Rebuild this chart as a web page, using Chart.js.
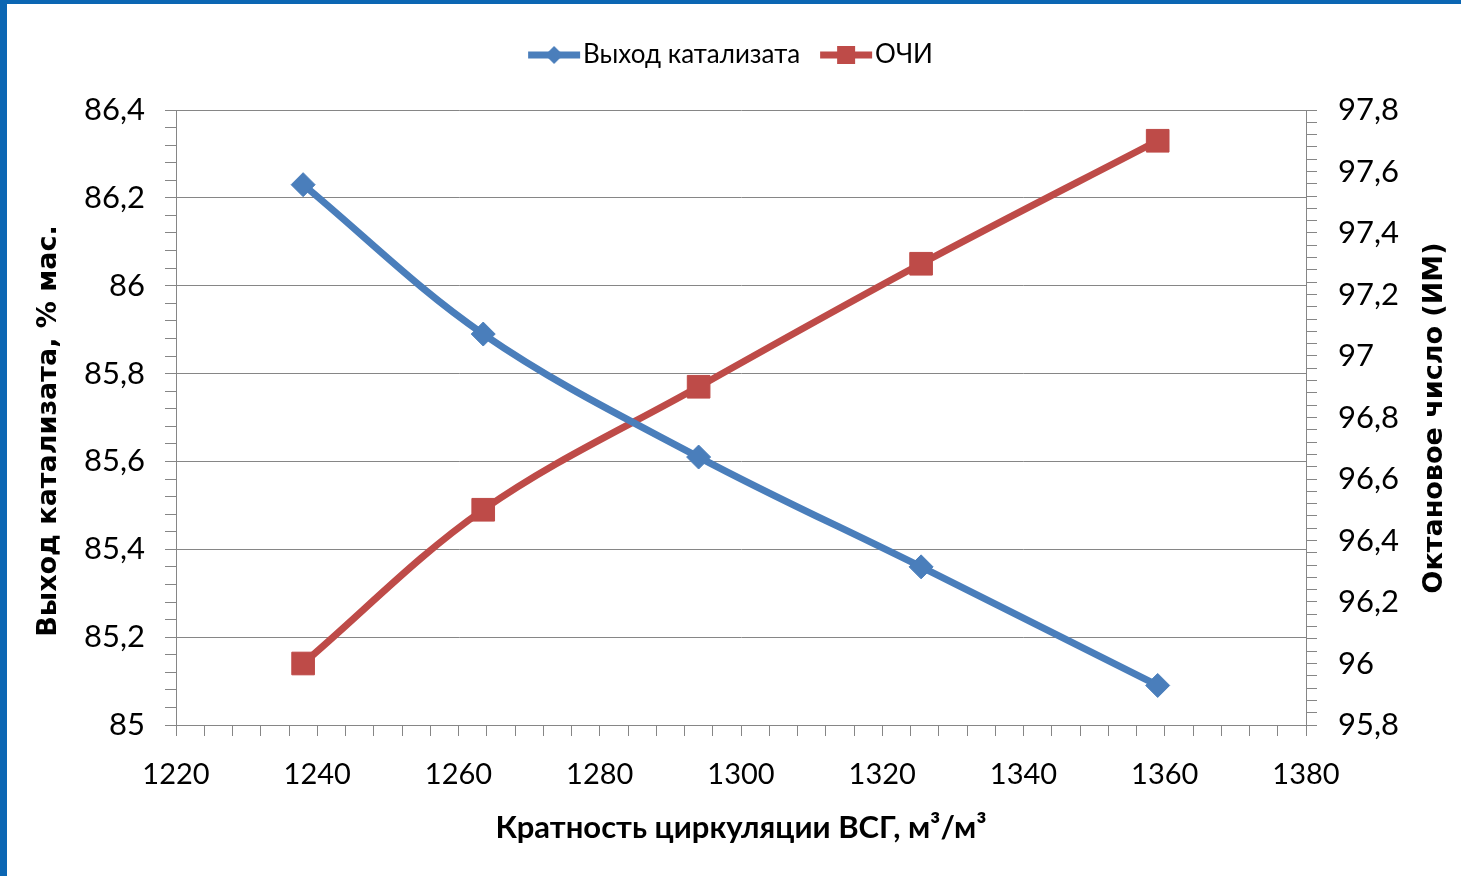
<!DOCTYPE html>
<html lang="ru">
<head>
<meta charset="utf-8">
<title>Выход катализата и ОЧИ</title>
<script src="https://cdn.jsdelivr.net/npm/chart.js@4.4.1/dist/chart.umd.min.js"></script>
<style>
    html, body { margin: 0; padding: 0; background: #fff; }
    #wrap { position: relative; width: 1461px; height: 876px; overflow: hidden; }
    #wrap canvas { position: absolute; left: 0; top: 0; }
    .frame { position: absolute; background: #0b66b3; }
    #frameLeft { left: 0; top: 0; width: 7px; height: 876px; }
    #frameTop { left: 0; top: 0; width: 1461px; height: 4px; }
</style>
</head>
<body>
<div id="wrap">
    <canvas id="chart" width="1461" height="876"></canvas>
    <div class="frame" id="frameLeft"></div>
    <div class="frame" id="frameTop"></div>
</div>
<script>
// values
const circulation = [1238, 1263.5, 1294, 1325.5, 1359];
const catalystYield = [86.23, 85.89, 85.61, 85.36, 85.09];
const octaneNumber = [96.0, 96.5, 96.9, 97.3, 97.7];

const seriesNames = ['Выход катализата', 'ОЧИ'];
const xTitle = 'Кратность циркуляции ВСГ, м³/м³';
const yLeftTitle = 'Выход катализата, % мас.';
const yRightTitle = 'Октановое число (ИМ)';

const xRange = [1220, 1380];
const yLeftRange = [85, 86.4];
const yRightRange = [95.8, 97.8];

const BLUE = '#4a7ebb';
const RED = '#be4b48';
const AXIS = '#868686';

const isMajor = (v, step) => Math.abs(v / step - Math.round(v / step)) < 1e-6;
const fmt = (v) => (Math.round(v * 10) / 10).toString().replace('.', ',');

// legend icon: line with marker, like the Excel legend
function legendIcon(color, shape) {
    const c = document.createElement('canvas');
    c.width = 64; c.height = 22;
    const g = c.getContext('2d');
    g.strokeStyle = color;
    g.lineWidth = 7;
    g.beginPath(); g.moveTo(11, 11); g.lineTo(63, 11); g.stroke();
    g.fillStyle = color;
    const cx = 37, cy = 11;
    if (shape === 'diamond') {
        g.beginPath();
        g.moveTo(cx, cy - 9); g.lineTo(cx + 9, cy); g.lineTo(cx, cy + 9); g.lineTo(cx - 9, cy);
        g.closePath(); g.fill();
    } else {
        g.fillRect(cx - 9, cy - 9, 18, 18);
    }
    return c;
}
const legendIcons = [legendIcon(BLUE, 'diamond'), legendIcon(RED, 'square')];

// y-axis titles, both read bottom to top
const axisTitles = {
    id: 'axisTitles',
    afterDraw(chart) {
        const ctx = chart.ctx;
        ctx.save();
        ctx.fillStyle = '#000';
        ctx.font = "bold 27px 'DejaVu Sans'";
        ctx.textAlign = 'center';
        ctx.textBaseline = 'middle';
        [[49, 431, yLeftTitle], [1435, 418, yRightTitle]].forEach(([x, y, t]) => {
            ctx.save();
            ctx.translate(x, y);
            ctx.rotate(-Math.PI / 2);
            ctx.fillText(t, 0, 0);
            ctx.restore();
        });
        ctx.restore();
    }
};

Chart.defaults.font.family = "Lato, 'Open Sans', sans-serif";
Chart.defaults.color = '#000';

const tickGrid = (step, onArea) => ({
    drawOnChartArea: onArea,
    color: (c) => (c.tick && isMajor(c.tick.value, step)) ? AXIS : 'rgba(0,0,0,0)',
    tickColor: AXIS,
    tickLength: 11,
    lineWidth: 1
});

new Chart(document.getElementById('chart'), {
    type: 'line',
    data: {
        datasets: [{
            label: seriesNames[0],
            data: circulation.map((x, i) => ({ x, y: catalystYield[i] })),
            yAxisID: 'y',
            borderColor: BLUE,
            backgroundColor: BLUE,
            borderWidth: 7,
            tension: 0.35,
            pointStyle: 'rectRot',
            pointRadius: 12,
            pointBorderWidth: 1,
            pointBorderColor: BLUE,
            pointBackgroundColor: BLUE
        }, {
            label: seriesNames[1],
            data: circulation.map((x, i) => ({ x, y: octaneNumber[i] })),
            yAxisID: 'y1',
            borderColor: RED,
            backgroundColor: RED,
            borderWidth: 7,
            tension: 0.35,
            pointStyle: 'rect',
            pointRadius: 16,
            pointBorderWidth: 1,
            pointBorderColor: RED,
            pointBackgroundColor: RED
        }]
    },
    options: {
        responsive: false,
        animation: false,
        layout: { padding: { top: 22, left: 0, right: 0, bottom: 0 } },
        plugins: {
            tooltip: { enabled: false },
            legend: {
                position: 'top',
                labels: {
                    usePointStyle: true,
                    pointStyleWidth: 42,
                    padding: 20,
                    font: { size: 26 },
                    color: '#000',
                    generateLabels: (chart) => chart.data.datasets.map((ds, i) => ({
                        text: ds.label,
                        pointStyle: legendIcons[i],
                        fillStyle: ds.borderColor,
                        strokeStyle: ds.borderColor,
                        lineWidth: 0,
                        datasetIndex: i
                    }))
                }
            },
            // empty spacer between legend and plot
            subtitle: {
                display: true,
                text: ' ',
                weight: 500,
                font: { size: 10, lineHeight: 1 },
                padding: { top: 0, bottom: 22 }
            }
        },
        scales: {
            x: {
                type: 'linear',
                position: 'bottom',
                min: xRange[0],
                max: xRange[1],
                afterFit: (s) => { s.height = 151; },
                border: { color: AXIS, width: 1 },
                grid: tickGrid(20, false),
                ticks: {
                    stepSize: 4,
                    maxTicksLimit: 1000,
                    autoSkip: false,
                    maxRotation: 0,
                    padding: 21,
                    font: { size: 29 },
                    callback: (v) => isMajor(v, 20) ? String(v) : ''
                },
                title: {
                    display: true,
                    text: xTitle,
                    font: { size: 31, weight: 'bold' },
                    padding: { top: 0, bottom: 29 }
                }
            },
            y: {
                type: 'linear',
                position: 'left',
                min: yLeftRange[0],
                max: yLeftRange[1],
                afterFit: (s) => { s.width = 176; },
                border: { color: AXIS, width: 1 },
                grid: tickGrid(0.2, true),
                ticks: {
                    stepSize: 0.04,
                    maxTicksLimit: 1000,
                    autoSkip: false,
                    padding: 20,
                    font: { size: 31 },
                    callback: (v) => isMajor(v, 0.2) ? fmt(v) : ''
                }
            },
            y1: {
                type: 'linear',
                position: 'right',
                min: yRightRange[0],
                max: yRightRange[1],
                afterFit: (s) => { s.width = 155; },
                border: { color: AXIS, width: 1 },
                grid: tickGrid(0.2, false),
                ticks: {
                    stepSize: 0.04,
                    maxTicksLimit: 1000,
                    autoSkip: false,
                    padding: 21,
                    font: { size: 31 },
                    callback: (v) => isMajor(v, 0.2) ? fmt(v) : ''
                }
            }
        }
    },
    plugins: [axisTitles]
});
</script>
</body>
</html>
